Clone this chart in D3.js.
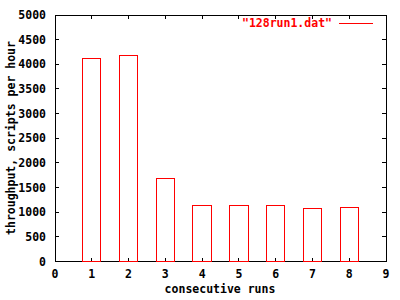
<!DOCTYPE html>
<html><head><meta charset="utf-8">
<script src="https://cdn.jsdelivr.net/npm/d3@7"></script>
<style>body{margin:0;background:#fff}svg{display:block}text{font-family:"DejaVu Sans Mono",monospace;font-weight:bold;font-size:11.5px}</style>
</head><body>
<script>
const runs = [1,2,3,4,5,6,7,8];
const throughput = [4122,4183,1688,1146,1146,1126,1079,1105];
const xTicks = [0,1,2,3,4,5,6,7,8,9];
const yTicks = [0,500,1000,1500,2000,2500,3000,3500,4000,4500,5000];
const seriesName = '"128run1.dat"';

const W=400,H=300, L=55, R=386, T=15, B=261.5;
const svg=d3.select("body").append("svg").attr("width",W).attr("height",H);
const x=d3.scaleLinear().domain([0,9]).range([L,R]);
const y=d3.scaleLinear().domain([0,5000]).range([B,T]);
const tl=4;

const g=svg.append("g").attr("stroke","#000").attr("stroke-width",1).attr("fill","none").attr("shape-rendering","crispEdges");
// bars
svg.append("g").selectAll("rect").data(runs).join("rect")
 .attr("x",(d)=>x(d-0.25)).attr("width",(d)=>x(d+0.25)-x(d-0.25))
 .attr("y",(d,i)=>y(throughput[i])).attr("height",(d,i)=>y(0)-y(throughput[i]))
 .attr("fill","none").attr("stroke","#ff0000").attr("stroke-width",1).attr("shape-rendering","crispEdges");
// ticks
yTicks.forEach(v=>{
  g.append("line").attr("x1",L).attr("x2",L+tl).attr("y1",y(v)).attr("y2",y(v));
  g.append("line").attr("x1",R).attr("x2",R-tl).attr("y1",y(v)).attr("y2",y(v));
  svg.append("text").attr("x",L-9).attr("y",y(v)).attr("dy","0.35em").attr("text-anchor","end").text(v);
});
xTicks.forEach(v=>{
  g.append("line").attr("x1",x(v)).attr("x2",x(v)).attr("y1",B).attr("y2",B-tl);
  g.append("line").attr("x1",x(v)).attr("x2",x(v)).attr("y1",T).attr("y2",T+tl);
  svg.append("text").attr("x",x(v)).attr("y",274).attr("dy","0.35em").attr("text-anchor","middle").text(v);
});
// border
g.append("rect").attr("x",L).attr("y",T).attr("width",R-L).attr("height",B-T);
// legend
svg.append("text").attr("x",332).attr("y",23).attr("dy","0.35em").attr("text-anchor","end").attr("fill","#ff0000").text(seriesName);
svg.append("line").attr("x1",339).attr("x2",373).attr("y1",23).attr("y2",23).attr("stroke","#ff0000").attr("shape-rendering","crispEdges");
// axis labels
svg.append("text").attr("x",220).attr("y",289).attr("dy","0.35em").attr("text-anchor","middle").text("consecutive runs");
svg.append("text").attr("transform","translate(11,138) rotate(-90)").attr("dy","0.35em").attr("text-anchor","middle").text("throughput, scripts per hour");
</script>
</body></html>
